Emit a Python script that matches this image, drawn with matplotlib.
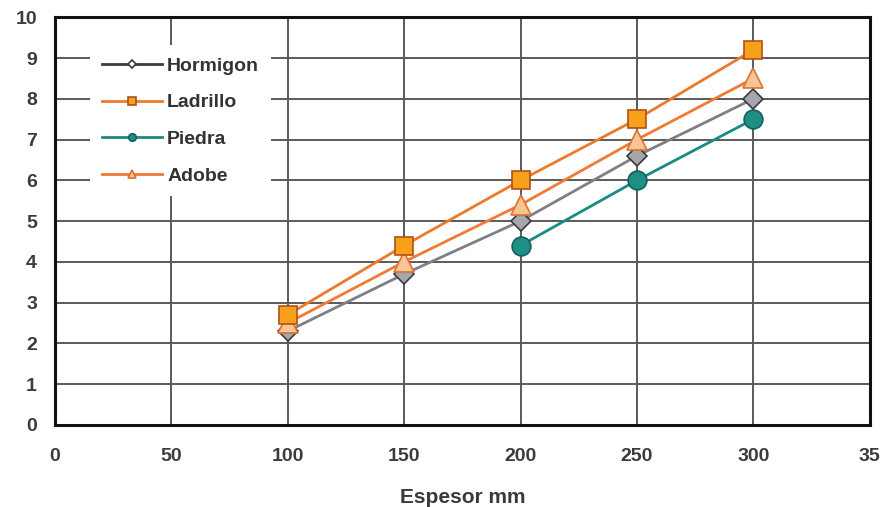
import matplotlib
matplotlib.use("Agg")
import matplotlib.pyplot as plt

plt.rcParams['font.family'] = ['Liberation Sans', 'DejaVu Sans']

espesor = [100, 150, 200, 250, 300]
hormigon = [2.3, 3.7, 5.0, 6.6, 8.0]
ladrillo = [2.7, 4.4, 6.0, 7.5, 9.2]
piedra_x = [200, 250, 300]
piedra = [4.4, 6.0, 7.5]
adobe = [2.5, 4.0, 5.4, 7.0, 8.5]

x_ticks = [0, 50, 100, 150, 200, 250, 300, 350]
x_labels = ["0", "50", "100", "150", "200", "250", "300", "35"]
y_ticks = list(range(0, 11))

fig = plt.figure(figsize=(8.8, 5.07), dpi=100)
ax = fig.add_axes([0.0625, 0.162, 0.926, 0.804])

ax.plot(espesor, hormigon, color="#7f7f85", lw=2, marker="D", ms=10.5,
        mfc="#a6a6ad", mec="#3a3a44", mew=1.2, label="Hormigon", zorder=3)
ax.plot(espesor, ladrillo, color="#ec7a2c", lw=2, marker="s", ms=13.5,
        mfc="#f7a11a", mec="#b0501a", mew=1.2, label="Ladrillo", zorder=4)
ax.plot(piedra_x, piedra, color="#1a8a84", lw=2, marker="o", ms=13.5,
        mfc="#1f8f86", mec="#15605c", mew=1.2, label="Piedra", zorder=3)
ax.plot(espesor, adobe, color="#f07a36", lw=2, marker="^", ms=14.5,
        mfc="#fbc495", mec="#d8742e", mew=1.2, label="Adobe", zorder=3)

ax.set_xlim(0, 350)
ax.set_ylim(0, 10)
ax.set_xticks(x_ticks)
ax.set_xticklabels(x_labels)
ax.set_yticks(y_ticks)
ax.grid(True, color="#5a5a5a", lw=1.4)
ax.set_axisbelow(True)
ax.tick_params(length=0, labelsize=14, colors="#3c3c3c")
ax.tick_params(axis="x", pad=17)
ax.tick_params(axis="y", pad=13)
for lbl in ax.get_xticklabels() + ax.get_yticklabels():
    lbl.set_fontweight("bold")
for s in ax.spines.values():
    s.set_linewidth(2.2)
    s.set_color("#111111")

ax.set_xlabel("Espesor mm", fontsize=15, fontweight="bold", color="#3a3a3a",
              labelpad=16)

leg = ax.legend(loc="upper left", bbox_to_anchor=(0.043, 0.931), frameon=True,
                fancybox=False, edgecolor="none", facecolor="white",
                framealpha=1, handlelength=3.1, markerscale=0.4,
                labelspacing=0.98, handletextpad=0.26, borderpad=0.6,
                borderaxespad=0, prop={"size": 14, "weight": "bold"})
for t in leg.get_texts():
    t.set_color("#333333")
leg.get_lines()[0].set_color("#3a3a3a")
leg.get_lines()[0].set_markerfacecolor("white")

fig.savefig("out.png", dpi=100)
